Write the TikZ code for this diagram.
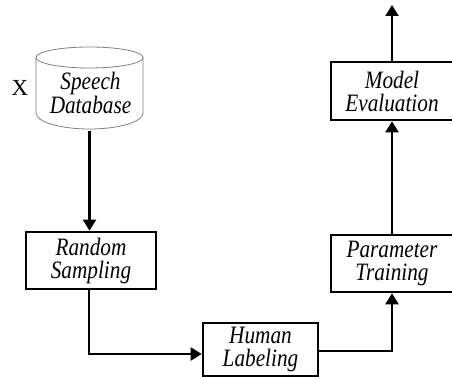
\documentclass[tikz,border=0pt]{standalone}
\usepackage{fontspec}
\setmainfont{Liberation Serif}
\newfontfamily\stagefont[FakeStretch=0.85]{Liberation Serif}
\usetikzlibrary{positioning,arrows.meta}

\begin{document}
\begin{tikzpicture}[x=1pt,y=1pt,
    stage/.style={draw,line width=2.6pt,inner sep=0,minimum height=57,
      font=\stagefont\fontsize{25}{23}\selectfont\itshape,align=center},
    flow/.style={line width=2.2pt,-{Triangle[length=11pt,width=13pt]}}]
  \useasboundingbox (0,0) rectangle (452,377);
  % the database drawn by hand as a cylinder round its text node
  \node (db) [font=\stagefont\fontsize{25}{22}\selectfont\itshape,align=center,
              minimum width=107,inner sep=0] at (90.5,284) {Speech\\Database};
  \draw[gray,line width=0.8pt] (89.5,319.5) ellipse [x radius=53.5,y radius=10.5];
  \draw[gray,line width=0.8pt] (36,319.5) -- (36,264)
    arc [start angle=180,end angle=360,x radius=53.5,y radius=16] -- (143,319.5);
  \coordinate (dbbot) at (89.5,246);
  \node (xlabel) [font=\fontsize{23}{23}\selectfont] at (20,289) {X};
  % the four stages
  \node (rs) [stage,minimum width=130] at (91,116.5) {Random\\Sampling};
  \node (hl) [stage,minimum width=115,minimum height=53] at (260.5,27.5) {Human\\Labeling};
  \node (pt) [stage,minimum width=122] at (392,113.5) {Parameter\\Training};
  \node (me) [stage,minimum width=122,minimum height=58] at (392,286) {Model\\Evaluation};
  \coordinate (out) at (392,372);
  \draw [flow] (dbbot) -- (dbbot |- rs.north);
  \draw [flow] ([xshift=-2]rs.south) |- ([yshift=-4.5]hl.west);
  \draw [flow] ([yshift=-1.5]hl.east) -| (pt.south);
  \draw [flow] (pt.north) -- (me.south);
  \draw [flow] (me.north) -- (out);
\end{tikzpicture}
\end{document}
